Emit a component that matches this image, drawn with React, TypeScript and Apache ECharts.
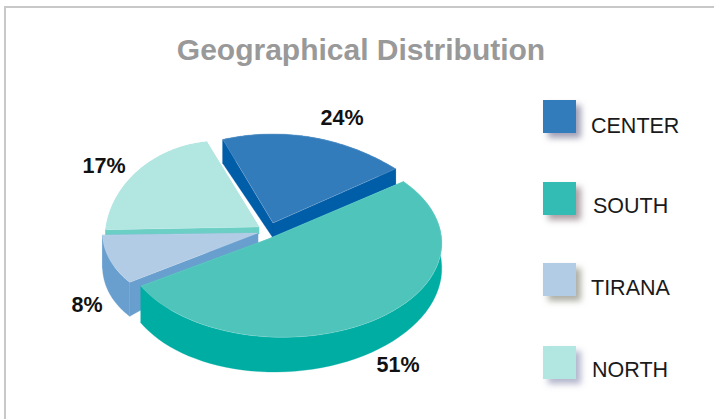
import React, { useEffect, useRef } from "react";
import * as echarts from "echarts";

const titleText = "Geographical Distribution";
const categories = ["CENTER", "SOUTH", "TIRANA", "NORTH"];
const shares = [24, 51, 8, 17];

const topColors = ["#337cbb", "#4fc4bb", "#b2cce6", "#b2e6e1"];
const wallColors = ["#005da8", "#00ada3", "#699fce", "#6bcfc5"];
const legendColors = ["#337cbb", "#33bcb4", "#b2cce6", "#b2e6e1"];
const legendShadows = ["rgba(120,120,150,0.7)", "rgba(130,110,115,0.65)", "rgba(130,130,115,0.65)", "rgba(130,135,170,0.6)"];
const legendBoxY = [100, 182, 263, 346];
const legendTextX = [591, 593, 591, 592];
const legendTextY = [126, 206, 288, 370];
const labelPos = [[342, 118], [398, 365], [87, 305], [104, 166]];

// clockwise pie order on screen, beginning with SOUTH
const pieOrder = [1, 2, 3, 0];
const pieStart = -33.5;
// painter's order: far slices first
const paintRank = [1, 3, 2, 0];
// projective frame of each exploded slice (ax, ay apex; R, T radii; p, q perspective; rot; d wall depth)
const frames = [
  { ax: 273, ay: 223, R: 184, T: 146, p: 0.64, q: 0, rot: 4.4, d0: 15, dx: -3.5, dy: -8.3 },
  { ax: 268, ay: 239, R: 158, T: 94, p: 0.04, q: 0.09, rot: -2, d0: 30, dx: -5, dy: 5 },
  { ax: 258, ay: 233, R: 112, T: 75, p: 0, q: -0.28, rot: 0, d0: 12, dx: -21, dy: 7.6 },
  { ax: 259, ay: 227, R: 91.8, T: 86, p: 0.086, q: -0.4, rot: 0, d0: 7, dx: 0, dy: 0 },
];

function sliceAngles() {
  const total = shares.reduce((a, b) => a + b, 0);
  const out: Record<number, [number, number]> = {};
  let a = pieStart;
  for (const i of pieOrder) {
    const span = (shares[i] / total) * 360;
    out[i] = [a, a + span];
    a += span;
  }
  return out;
}

function project(i: number, deg: number, withDepth: boolean, radial = 1): number[] {
  const f = frames[i];
  const t = ((deg + f.rot) * Math.PI) / 180;
  const X = Math.cos(t) * radial;
  const Y = Math.sin(t) * radial;
  const s = 1 / (1 - f.p * Y - f.q * X);
  const d = withDepth ? f.d0 + f.dx * X + f.dy * Y : 0;
  return [f.ax + f.R * X * s, f.ay + f.T * Y * s + d];
}

const angles = sliceAngles();

function renderSlice(_params: any, api: any) {
  const i = api.value(0) as number;
  const [a0, a1] = angles[i];
  const steps = 60;
  const top: number[][] = [];
  const bottom: number[][] = [];
  for (let k = 0; k <= steps; k++) {
    const a = a0 + ((a1 - a0) * k) / steps;
    top.push(project(i, a, false));
    bottom.push(project(i, a, true));
  }
  const apexTop = project(i, 0, false, 0);
  const apexBottom = project(i, 0, true, 0);
  const rank = paintRank[i] * 4;
  const wall = { fill: wallColors[i], stroke: wallColors[i], lineWidth: 0.3 };
  return {
    type: "group",
    children: [
      { type: "polygon", z2: rank, shape: { points: [...top, ...bottom.slice().reverse()] }, style: wall },
      { type: "polygon", z2: rank + 1, shape: { points: [apexTop, top[0], bottom[0], apexBottom] }, style: wall },
      { type: "polygon", z2: rank + 1, shape: { points: [apexTop, top[steps], bottom[steps], apexBottom] }, style: wall },
      {
        type: "polygon",
        z2: rank + 2,
        shape: { points: [apexTop, ...top] },
        style: { fill: topColors[i], stroke: "rgba(255,255,255,0.35)", lineWidth: 0.5 },
      },
    ],
  };
}

export default function App() {
  const ref = useRef<HTMLDivElement>(null);
  useEffect(() => {
    document.body.style.margin = "0";
    const chart = echarts.init(ref.current!, undefined, { renderer: "svg" });
    const font = "'Liberation Sans', Arial, sans-serif";
    chart.setOption({
      animation: false,
      backgroundColor: "#ffffff",
      title: {
        text: titleText,
        left: 356,
        top: 29,
        textAlign: "center",
        textStyle: { color: "#999999", fontSize: 30, fontWeight: "bold", fontFamily: font },
      },
      series: [
        {
          type: "custom",
          coordinateSystem: "none",
          data: categories.map((c, i) => ({ name: c, value: [i, shares[i]] })),
          renderItem: renderSlice,
          silent: true,
        },
      ],
      graphic: [
        { type: "rect", shape: { x: 4, y: 6, width: 710, height: 2 }, style: { fill: "#c8c8c8" } },
        { type: "rect", shape: { x: 4, y: 6, width: 2, height: 413 }, style: { fill: "#c8c8c8" } },
        ...categories.flatMap((c, i) => [
          {
            type: "rect",
            shape: { x: 543, y: legendBoxY[i], width: 33, height: 33 },
            style: {
              fill: legendColors[i],
              shadowBlur: 6,
              shadowOffsetX: 5,
              shadowOffsetY: 5,
              shadowColor: legendShadows[i],
            },
          },
          {
            type: "text",
            x: legendTextX[i],
            y: legendTextY[i],
            style: {
              text: c,
              fill: "#1a1a1a",
              fontSize: 21.5,
              fontFamily: font,
              verticalAlign: "middle",
            },
          },
          {
            type: "text",
            x: labelPos[i][0],
            y: labelPos[i][1],
            z: 10,
            style: {
              text: `${shares[i]}%`,
              fill: "#111111",
              fontSize: 21.5,
              fontWeight: "bold",
              fontFamily: font,
              align: "center",
              verticalAlign: "middle",
            },
          },
        ]),
      ],
    });
    return () => chart.dispose();
  }, []);
  return <div ref={ref} style={{ width: 714, height: 419 }} />;
}
